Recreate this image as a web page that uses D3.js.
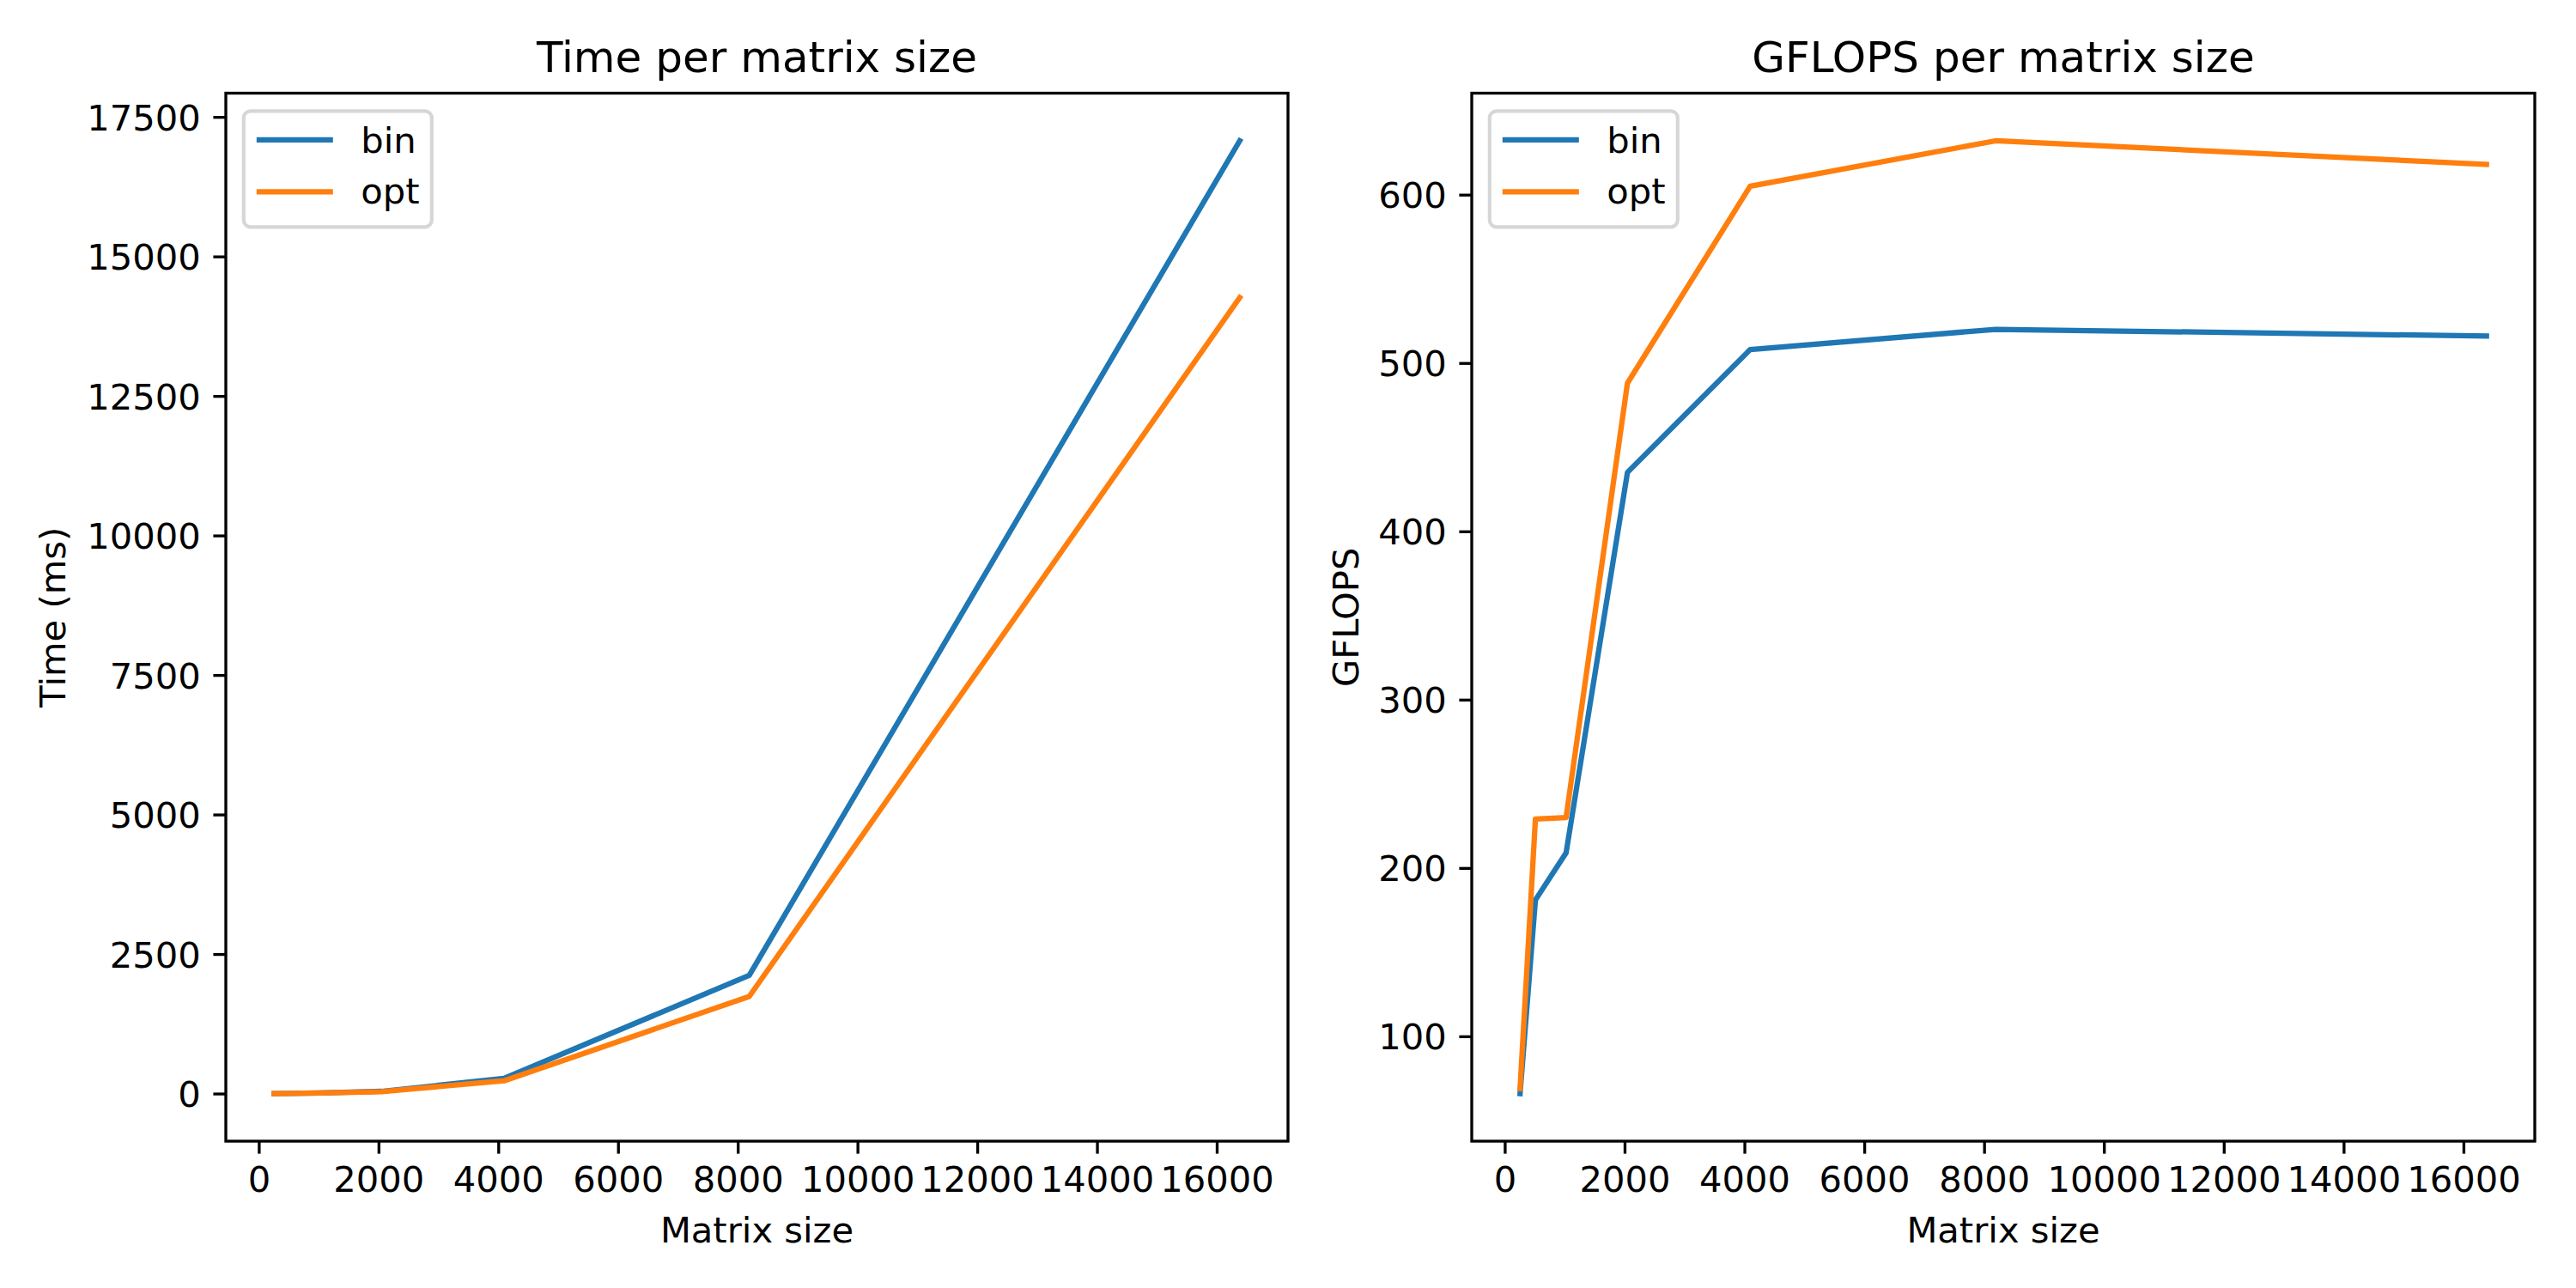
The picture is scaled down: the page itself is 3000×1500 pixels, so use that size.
<!DOCTYPE html>
<html lang="en">
<meta charset="utf-8">
<style>
body { margin: 0; background: white; }
svg text { font-family: "DejaVu Sans", sans-serif; fill: black; }
.tick line { stroke: black; stroke-width: 3.33px; }
.tick text { font-size: 41.67px; }
.spine { fill: none; stroke: black; stroke-width: 3.33px; }
.series { fill: none; stroke-width: 6.25px; stroke-linejoin: round; stroke-linecap: square; }
</style>
<body>
<div id="chart"></div>
<script src="https://cdn.jsdelivr.net/npm/d3@7"></script>
<script>
"use strict";

// data
const sizes = [256, 512, 1024, 2048, 4096, 8192, 16384];
const seriesNames = ["bin", "opt"];
const colors = ["#1f77b4", "#ff7f0e"];

const timeBin = [0.51, 1.48, 10.3, 39.5, 272, 2118, 17072];
const timeOpt = [0.49, 1.17, 9.3, 35.2, 228, 1740, 14262];

const gflopsBin = [66, 181, 209, 435, 508, 520, 516];
const gflopsOpt = [69, 229, 230, 488, 605, 632, 618];

const xTicks = [0, 2000, 4000, 6000, 8000, 10000, 12000, 14000, 16000];
const timeTicks = [0, 2500, 5000, 7500, 10000, 12500, 15000, 17500];
const gflopsTicks = [100, 200, 300, 400, 500, 600];

const W = 3000, H = 1500;
const TICK = 14.6, PAD = 14.6;

var svg = d3.select("#chart").append("svg")
  .attr("width", W)
  .attr("height", H)
  .style("background", "white");

// matplotlib style 5% margins
function padded(values) {
  var ext = d3.extent(values);
  var m = (ext[1] - ext[0]) * 0.05;
  return [ext[0] - m, ext[1] + m];
}

function drawPanel(p) {
  var x = d3.scaleLinear().domain(padded(sizes)).range([p.x0, p.x1]);
  var y = d3.scaleLinear().domain(padded(p.series[0].concat(p.series[1]))).range([p.y1, p.y0]);

  var g = svg.append("g");

  // lines
  var line = d3.line()
    .x((d, i) => x(sizes[i]))
    .y(d => y(d));

  p.series.forEach(function(s, k) {
    g.append("path")
      .datum(s)
      .attr("class", "series")
      .attr("stroke", colors[k])
      .attr("d", line);
  });

  // axes
  var xa = g.append("g")
    .attr("transform", "translate(0," + p.y1 + ")")
    .call(d3.axisBottom(x).tickValues(xTicks).tickFormat(d3.format("d"))
      .tickSize(TICK).tickPadding(PAD).tickSizeOuter(0));
  xa.select(".domain").remove();

  var ya = g.append("g")
    .attr("transform", "translate(" + p.x0 + ",0)")
    .call(d3.axisLeft(y).tickValues(p.ticks).tickFormat(d3.format("d"))
      .tickSize(TICK).tickPadding(PAD).tickSizeOuter(0));
  ya.select(".domain").remove();
  ya.selectAll("text").attr("dy", "0.36em");

  g.append("rect")
    .attr("class", "spine")
    .attr("x", p.x0).attr("y", p.y0)
    .attr("width", p.x1 - p.x0).attr("height", p.y1 - p.y0);

  // title and labels
  g.append("text")
    .attr("x", (p.x0 + p.x1) / 2).attr("y", 84)
    .attr("text-anchor", "middle")
    .style("font-size", "50px")
    .text(p.title);

  g.append("text")
    .attr("x", (p.x0 + p.x1) / 2).attr("y", 1447)
    .attr("text-anchor", "middle")
    .style("font-size", "41.67px")
    .text("Matrix size");

  g.append("text")
    .attr("transform", "translate(" + p.ylabelX + "," + (p.y0 + p.y1) / 2 + ") rotate(-90)")
    .attr("text-anchor", "middle")
    .style("font-size", "41.67px")
    .text(p.ylabel);

  // legend
  var lx = p.x0 + 20.8, ly = p.y0 + 20.8;
  var leg = g.append("g");
  leg.append("rect")
    .attr("x", lx).attr("y", ly)
    .attr("width", 219).attr("height", 135)
    .attr("rx", 8).attr("ry", 8)
    .attr("fill", "white").attr("fill-opacity", 0.8)
    .attr("stroke", "#cccccc").attr("stroke-opacity", 0.8)
    .attr("stroke-width", 4.17);

  seriesNames.forEach(function(name, k) {
    var cy = ly + 33.5 + k * 60.5;
    leg.append("line")
      .attr("x1", lx + 15).attr("x2", lx + 104)
      .attr("y1", cy).attr("y2", cy)
      .attr("stroke", colors[k]).attr("stroke-width", 6.25);
    leg.append("text")
      .attr("x", lx + 136.5).attr("y", ly + 48.5 + k * 59.5)
      .style("font-size", "41.67px")
      .text(name);
  });
}

drawPanel({
  x0: 263, x1: 1500, y0: 108.5, y1: 1329,
  series: [timeBin, timeOpt],
  ticks: timeTicks,
  title: "Time per matrix size",
  ylabel: "Time (ms)",
  ylabelX: 75.5
});

drawPanel({
  x0: 1714, x1: 2952, y0: 108.5, y1: 1329,
  series: [gflopsBin, gflopsOpt],
  ticks: gflopsTicks,
  title: "GFLOPS per matrix size",
  ylabel: "GFLOPS",
  ylabelX: 1581.5
});
</script>
</body>
</html>
